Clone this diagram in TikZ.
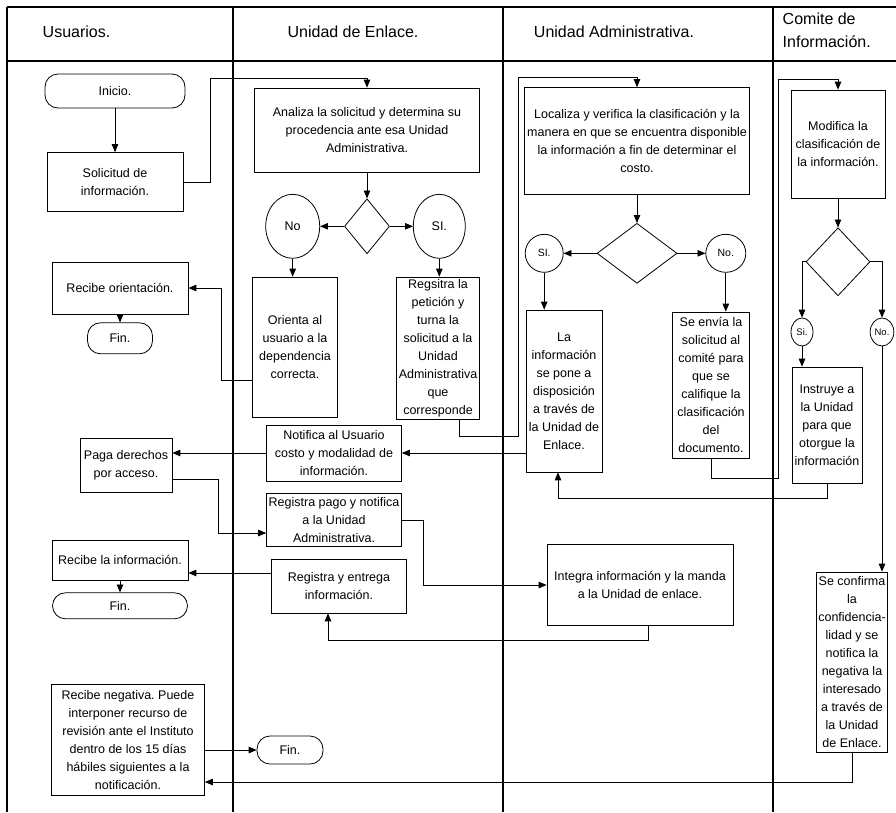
\documentclass[tikz,border=0pt]{standalone}
\usepackage{fontspec}
\setmainfont{Liberation Sans}
\usepackage{tikz}
\usetikzlibrary{shapes, arrows, calc, positioning}
\frenchspacing
\tikzstyle{process} = [rectangle, draw=black, align=center, inner sep=2pt]
\tikzstyle{decision} = [diamond, draw=black, inner sep=0pt]
\tikzstyle{answer} = [ellipse, draw=black, inner sep=1pt, align=center]
\tikzstyle{startstop} = [rectangle, rounded corners=13pt, draw=black, align=center]
\tikzstyle{arrow} = [->]
\tikzstyle{lane} = [line width=1.2pt]
\tikzstyle{title} = [font=\fontsize{16}{23}\selectfont, align=left]

\begin{document}
\begin{tikzpicture}[x=1pt, y=-1pt, thick, >=triangle 45, font=\fontsize{12.5}{18}\selectfont]
    \useasboundingbox (0,0) rectangle (896,812);
    % carriles
    \draw [lane] (7,7) -- (896,7);
    \draw [lane] (7,61) -- (896,61);
    \foreach \x in {7,233,503,773} \draw [lane] (\x,7) -- (\x,812);
    \node (hUsuarios) [title, anchor=west] at (39,32) {Usuarios.};
    \node (hEnlace) [title] at (353,32) {Unidad de Enlace.};
    \node (hAdmin) [title] at (614,32) {Unidad Administrativa.};
    \node (hComite) [title, anchor=west] at (779,30) {Comite de\\Información.};
    % Usuarios
    \node (Inicio) [startstop, minimum width=140pt, minimum height=34pt] at (115,91) {Inicio.};
    \node (Solicitud) [process, minimum width=136pt, minimum height=59pt] at (115,182) {Solicitud de\\información.};
    \node (RecibeOrient) [process, minimum width=136pt, minimum height=52pt] at (120,288) {Recibe orientación.};
    \node (Fin1) [startstop, minimum width=65pt, minimum height=31pt, below=8pt of RecibeOrient] {Fin.};
    \node (Paga) [process, minimum width=92pt, minimum height=54pt] at (126,465) {Paga derechos\\por acceso.};
    \node (RecibeInfo) [process, minimum width=136pt, minimum height=40pt] at (120,560) {Recibe la información.};
    \node (Fin2) [startstop, minimum width=135pt, minimum height=26pt, below=12pt of RecibeInfo] {Fin.};
    \node (Negativa) [process, minimum width=153pt, minimum height=111pt] at (128,740) {Recibe negativa. Puede\\interponer recurso de\\revisión ante el Instituto\\dentro de los 15 días\\hábiles siguientes a la\\notificación.};
    \node (Fin3) [startstop, minimum width=66pt, minimum height=28pt] at (290,750) {Fin.};
    % Unidad de Enlace
    \node (Analiza) [process, minimum width=225pt, minimum height=84pt] at (367,130) {Analiza la solicitud y determina su\\procedencia ante esa Unidad\\Administrativa.};
    \node (Dec1) [decision, minimum width=45pt, minimum height=55pt, below=26pt of Analiza] {};
    \node (No1) [answer, minimum width=54pt, minimum height=64pt, left=24pt of Dec1] {No};
    \node (Si1) [answer, minimum width=52pt, minimum height=64pt, right=23pt of Dec1] {SI.};
    \node (Orienta) [process, minimum width=85pt, minimum height=140pt] at (295,347) {Orienta al\\usuario a la\\dependencia\\correcta.};
    \node (Regsitra) [process, minimum width=76pt, minimum height=142pt] at (438,348) {Regsitra la\\petición y\\turna la\\solicitud a la\\Unidad\\Administrativa\\que\\corresponde};
    \node (Notifica) [process, minimum width=135pt, minimum height=56pt] at (334,453) {Notifica al Usuario\\costo y modalidad de\\información.};
    \node (RegPago) [process, minimum width=135pt, minimum height=53pt] at (334,520) {Registra pago y notifica\\a la Unidad\\Administrativa.};
    \node (RegEntrega) [process, minimum width=135pt, minimum height=54pt] at (339,586) {Registra y entrega\\información.};
    % Unidad Administrativa
    \node (Localiza) [process, minimum width=225pt, minimum height=107pt] at (637,141) {Localiza y verifica la clasificación y la\\manera en que se encuentra disponible\\la información a fin de determinar el\\costo.};
    \node (Dec2) [decision, minimum width=80pt, minimum height=60pt, below=28pt of Localiza] {};
    \node (Si2) [answer, minimum width=38pt, minimum height=38pt, left=33pt of Dec2, font=\fontsize{10.5}{12}\selectfont] {SI.};
    \node (No2) [answer, minimum width=40pt, minimum height=38pt, right=28pt of Dec2, font=\fontsize{10.5}{12}\selectfont] {No.};
    \node (LaInfo) [process, minimum width=76pt, minimum height=162pt] at (564,391) {La\\información\\se pone a\\disposición\\a través de\\la Unidad de\\Enlace.};
    \node (SeEnvia) [process, minimum width=77pt, minimum height=146pt] at (711,385) {Se envía la\\solicitud al\\comité para\\que se\\califique la\\clasificación\\del\\documento.};
    \node (Integra) [process, minimum width=186pt, minimum height=81pt] at (640,585) {Integra información y la manda\\a la Unidad de enlace.};
    % Comite de Informacion
    \node (Modifica) [process, minimum width=94pt, minimum height=108pt] at (838,144) {Modifica la\\clasificación de\\la información.};
    \node (Dec3) [decision, minimum width=64pt, minimum height=68pt, below=29pt of Modifica] {};
    \node (Si3) [answer, minimum width=22pt, minimum height=28pt, font=\fontsize{9.5}{10}\selectfont] at (802,332) {Si.};
    \node (No3) [answer, minimum width=22pt, minimum height=28pt, font=\fontsize{9.5}{10}\selectfont] at (882,332) {No.};
    \node (Instruye) [process, minimum width=70pt, minimum height=116pt] at (827,425) {Instruye a\\la Unidad\\para que\\otorgue la\\información};
    \node (Confirma) [process, minimum width=70pt, minimum height=180pt] at (852,662) {Se confirma\\la\\confidencia-\\lidad y se\\notifica la\\negativa la\\interesado\\a través de\\la Unidad\\de Enlace.};
    % conectores
    \draw [arrow] (Inicio) -- (Solicitud);
    \draw [arrow] (Solicitud.east) -- ++(27,0) |- ([yshift=9pt]Analiza.north) -- (Analiza.north);
    \draw [arrow] (Analiza) -- (Dec1);
    \draw [arrow] (Dec1.west) -- (No1);
    \draw [arrow] (Dec1.east) -- (Si1);
    \draw [arrow] (No1.south) -- (No1.south |- Orienta.north);
    \draw [arrow] (Si1.south) -- (Si1.south |- Regsitra.north);
    \draw [arrow] ([yshift=-33pt]Orienta.west) -- ++(-31,0) |- (RecibeOrient.east);
    \draw [arrow] (RecibeOrient) -- (Fin1);
    \draw [arrow] ([xshift=21pt]Regsitra.south) -- ++(0,17) -- ++(59,0) |- ([yshift=10pt]Localiza.north) -- (Localiza.north);
    \draw [arrow] (Localiza) -- (Dec2);
    \draw [arrow] (Dec2.west) -- (Si2);
    \draw [arrow] (Dec2.east) -- (No2);
    \draw [arrow] (Si2.south) -- (Si2.south |- LaInfo.north);
    \draw [arrow] (No2.south) -- (No2.south |- SeEnvia.north);
    \draw [arrow] (LaInfo.west |- Notifica.east) -- (Notifica.east);
    \draw [arrow] (Notifica.west) -- (Notifica.west -| Paga.east);
    \draw [arrow] ([yshift=-14pt]Paga.east) -- ++(46,0) |- ([yshift=-13pt]RegPago.west);
    \draw [arrow] (RegPago.east) -- ++(21,0) |- (Integra.west);
    \draw [arrow] ([xshift=8pt]Integra.south) -- ++(0,14) -| ([xshift=-11pt]RegEntrega.south);
    \coordinate (Entrega) at ([yshift=13pt]RegEntrega.west);
    \draw [arrow] (Entrega) -- (Entrega -| RecibeInfo.east);
    \draw [arrow] (RecibeInfo) -- (Fin2);
    \draw [arrow] (Negativa.east |- Fin3.west) -- (Fin3.west);
    \draw [arrow] (SeEnvia.south) -- ++(0,20) -- ++(67,0) |- ([yshift=10pt]Modifica.north) -- (Modifica.north);
    \draw [arrow] (Modifica) -- (Dec3);
    \draw [arrow] (Dec3.west) -| (Si3.north);
    \draw [arrow] (Dec3.east) -| (No3.north);
    \draw [arrow] (Si3.south) -- (Si3.south |- Instruye.north);
    \draw [arrow] (No3.south) -- (No3.south |- Confirma.north);
    \draw [arrow] (Instruye.south) -- ++(0,15) -| ([xshift=-6pt]LaInfo.south);
    \coordinate (Negada) at ([yshift=-42pt]Negativa.east);
    \draw [arrow] (Confirma.south) |- (Negada);
\end{tikzpicture}
\end{document}
